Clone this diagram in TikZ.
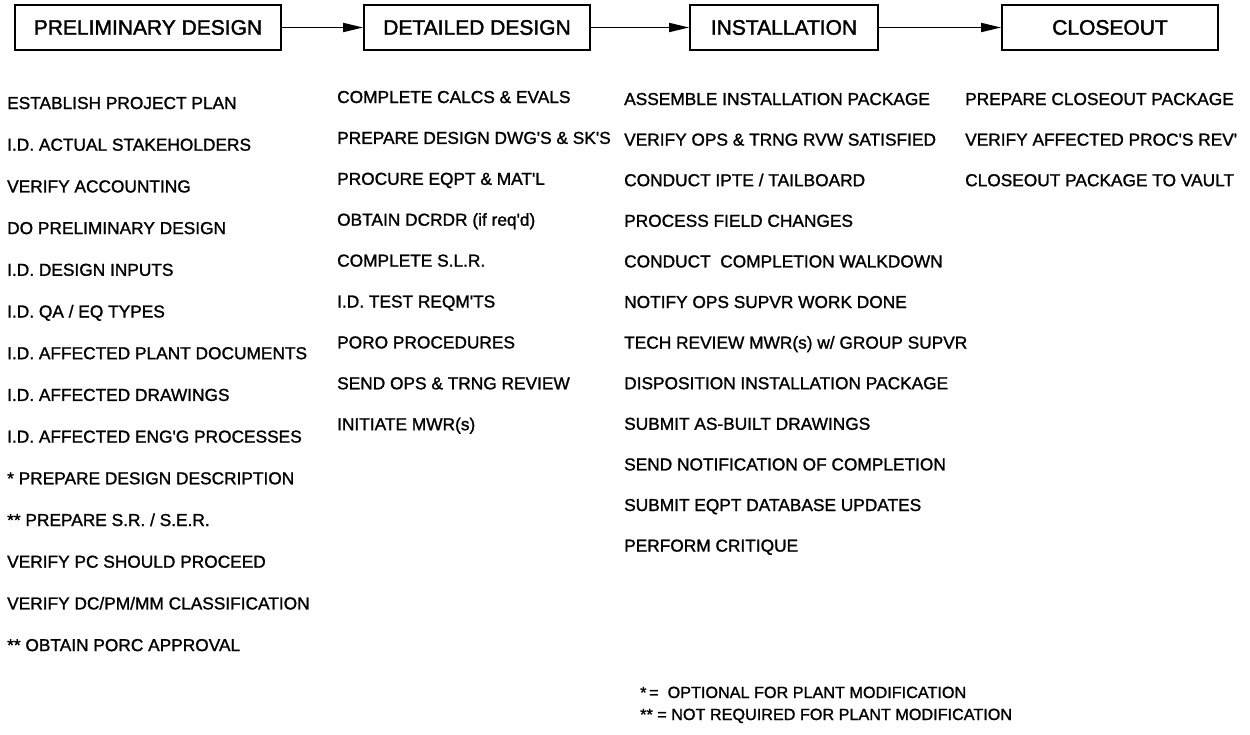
\documentclass[tikz,border=0pt]{standalone}
\usepackage{fontspec}
\setmainfont{Liberation Sans}
\newfontfamily\scanfont{Liberation Sans}[FakeBold=1.3]
\newfontfamily\headfont{Liberation Sans}[FakeBold=1.8]
\usetikzlibrary{arrows.meta}
\tikzset{
  phase/.style={draw, line width=1.8pt, minimum height=45pt, inner sep=0pt, font=\headfont\fontsize{21}{24}\selectfont},
  item/.style={anchor=base west, inner sep=0pt, font=\scanfont\fontsize{17.3}{20}\selectfont},
  legend/.style={anchor=base west, inner sep=0pt, font=\scanfont\fontsize{16.2}{20}\selectfont},
  flow/.style={line width=1.8pt, -{Triangle[length=20pt,width=9pt]}}
}
\begin{document}
\begin{tikzpicture}[x=1pt,y=-1pt]
\useasboundingbox (0,0) rectangle (1250,734);
\node[phase, minimum width=266pt] (pd) at (148,27.5) {PRELIMINARY DESIGN};
\node[phase, minimum width=226pt] (dd) at (477,27.5) {DETAILED DESIGN};
\node[phase, minimum width=188pt] (in) at (784,27.5) {INSTALLATION};
\node[phase, minimum width=216pt] (co) at (1110,27.5) {CLOSEOUT};
\draw[flow] (pd) -- (dd);
\draw[flow] (dd) -- (in);
\draw[flow] (in) -- (co);

\foreach \t [count=\i] in {ESTABLISH PROJECT PLAN, I.D. ACTUAL STAKEHOLDERS, VERIFY ACCOUNTING, DO PRELIMINARY DESIGN, I.D. DESIGN INPUTS, I.D. QA / EQ TYPES, I.D. AFFECTED PLANT DOCUMENTS, I.D. AFFECTED DRAWINGS, I.D. AFFECTED ENG'G PROCESSES, * PREPARE DESIGN DESCRIPTION, ** PREPARE S.R. / S.E.R., VERIFY PC SHOULD PROCEED, VERIFY DC/PM/MM CLASSIFICATION, ** OBTAIN PORC APPROVAL}
  \node[item] (a\i) at (7,{109+41.7*(\i-1)}) {\t};

\foreach \t [count=\i] in {COMPLETE CALCS \& EVALS, PREPARE DESIGN DWG'S \& SK'S, PROCURE EQPT \& MAT'L, OBTAIN DCRDR (if req'd), COMPLETE S.L.R., I.D. TEST REQM'TS, PORO PROCEDURES, SEND OPS \& TRNG REVIEW, INITIATE MWR(s)}
  \node[item] (b\i) at (337,{103+40.9*(\i-1)}) {\t};

\foreach \t [count=\i] in {ASSEMBLE INSTALLATION PACKAGE, VERIFY OPS \& TRNG RVW SATISFIED, CONDUCT IPTE / TAILBOARD, PROCESS FIELD CHANGES, CONDUCT\ \ COMPLETION WALKDOWN, NOTIFY OPS SUPVR WORK DONE, TECH REVIEW MWR(s) w/ GROUP SUPVR, DISPOSITION INSTALLATION PACKAGE, SUBMIT AS-BUILT DRAWINGS, SEND NOTIFICATION OF COMPLETION, SUBMIT EQPT DATABASE UPDATES, PERFORM CRITIQUE}
  \node[item] (c\i) at (624,{105+40.6*(\i-1)}) {\t};

\foreach \t [count=\i] in {PREPARE CLOSEOUT PACKAGE, VERIFY AFFECTED PROC'S REV', CLOSEOUT PACKAGE TO VAULT}
  \node[item] (d\i) at (965,{105+40.6*(\i-1)}) {\t};

\node[legend] (l1) at (640,698) {*\,=\ \ OPTIONAL FOR PLANT MODIFICATION};
\node[legend] (l2) at (640,720) {** = NOT REQUIRED FOR PLANT MODIFICATION};
\end{tikzpicture}
\end{document}
